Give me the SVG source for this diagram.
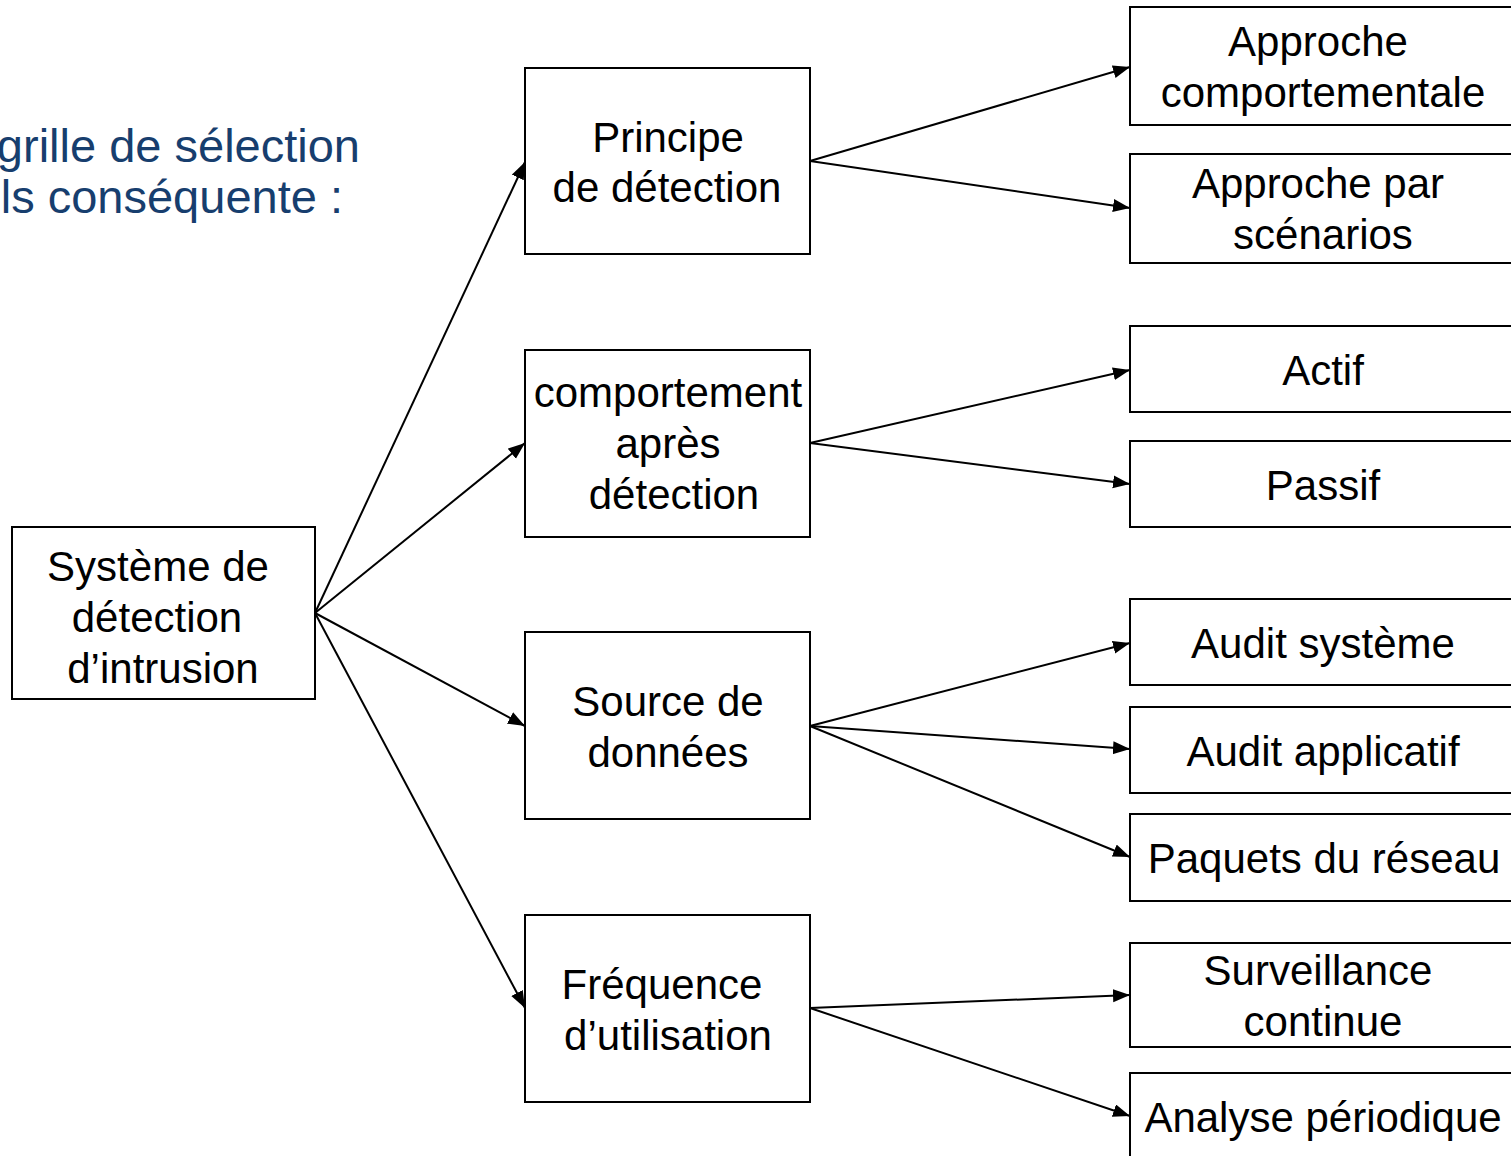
<svg xmlns="http://www.w3.org/2000/svg" width="1511" height="1156" viewBox="0 0 1511 1156">
<style>
  .box { fill: #ffffff; stroke: #000000; stroke-width: 2; }
  .t { font-family: "Liberation Sans", Arial, sans-serif; font-size: 42px; fill: #000000; text-anchor: middle; }
  .title { font-family: "Liberation Sans", Arial, sans-serif; font-size: 47px; fill: #173E6E; text-anchor: end; }
  .conn line { stroke: #000000; stroke-width: 2; fill: none; marker-end: url(#arr); }
</style>
<defs>
  <marker id="arr" markerUnits="userSpaceOnUse" markerWidth="19" markerHeight="15" refX="17" refY="6.5" orient="auto">
    <path d="M0,0 L17,6.5 L0,13 Z" fill="#000000"/>
  </marker>
</defs>
<rect x="0" y="0" width="1511" height="1156" fill="#ffffff"/>

<g id="title">
  <text class="title" x="360" y="162">grille de sélection</text>
  <text class="title" x="343" y="213">ls conséquente :</text>
</g>

<g id="connectors" class="conn">
  <line x1="315" y1="613" x2="525" y2="162"/>
  <line x1="315" y1="613" x2="525" y2="443"/>
  <line x1="315" y1="613" x2="525" y2="726"/>
  <line x1="315" y1="613" x2="525" y2="1008"/>
  <line x1="810" y1="161" x2="1130" y2="67"/>
  <line x1="810" y1="161" x2="1130" y2="208"/>
  <line x1="810" y1="443" x2="1130" y2="370"/>
  <line x1="810" y1="443" x2="1130" y2="484"/>
  <line x1="810" y1="726" x2="1130" y2="643"/>
  <line x1="810" y1="726" x2="1130" y2="749"/>
  <line x1="810" y1="726" x2="1130" y2="857"/>
  <line x1="810" y1="1008" x2="1130" y2="995"/>
  <line x1="810" y1="1008" x2="1130" y2="1116"/>
</g>

<g id="n-ids">
  <rect class="box" x="12" y="527" width="303" height="172"/>
  <text class="t" x="158" y="581">Système de</text>
  <text class="t" x="157" y="632">détection</text>
  <text class="t" x="163" y="683">d’intrusion</text>
</g>

<g id="n-principe">
  <rect class="box" x="525" y="68" width="285" height="186"/>
  <text class="t" x="668" y="152">Principe</text>
  <text class="t" x="667" y="202">de détection</text>
</g>

<g id="n-comportement">
  <rect class="box" x="525" y="350" width="285" height="187"/>
  <text class="t" x="668" y="407">comportement</text>
  <text class="t" x="668" y="458">après</text>
  <text class="t" x="674" y="509">détection</text>
</g>

<g id="n-source">
  <rect class="box" x="525" y="632" width="285" height="187"/>
  <text class="t" x="668" y="716">Source de</text>
  <text class="t" x="668" y="767">données</text>
</g>

<g id="n-frequence">
  <rect class="box" x="525" y="915" width="285" height="187"/>
  <text class="t" x="662" y="999">Fréquence</text>
  <text class="t" x="668" y="1050">d’utilisation</text>
</g>

<g id="n-comportementale">
  <rect class="box" x="1130" y="7" width="387" height="118"/>
  <text class="t" x="1318" y="56">Approche</text>
  <text class="t" x="1323" y="107">comportementale</text>
</g>

<g id="n-scenarios">
  <rect class="box" x="1130" y="154" width="387" height="109"/>
  <text class="t" x="1318" y="198">Approche par</text>
  <text class="t" x="1323" y="249">scénarios</text>
</g>

<g id="n-actif">
  <rect class="box" x="1130" y="326" width="387" height="86"/>
  <text class="t" x="1323" y="385">Actif</text>
</g>

<g id="n-passif">
  <rect class="box" x="1130" y="441" width="387" height="86"/>
  <text class="t" x="1323" y="500">Passif</text>
</g>

<g id="n-audit-systeme">
  <rect class="box" x="1130" y="599" width="387" height="86"/>
  <text class="t" x="1323" y="658">Audit système</text>
</g>

<g id="n-audit-applicatif">
  <rect class="box" x="1130" y="707" width="387" height="86"/>
  <text class="t" x="1323" y="766">Audit applicatif</text>
</g>

<g id="n-paquets">
  <rect class="box" x="1130" y="814" width="387" height="87"/>
  <text class="t" x="1324" y="873">Paquets du réseau</text>
</g>

<g id="n-surveillance">
  <rect class="box" x="1130" y="943" width="387" height="104"/>
  <text class="t" x="1318" y="985">Surveillance</text>
  <text class="t" x="1323" y="1036">continue</text>
</g>

<g id="n-analyse">
  <rect class="box" x="1130" y="1073" width="387" height="90"/>
  <text class="t" x="1323" y="1132">Analyse périodique</text>
</g>
</svg>
